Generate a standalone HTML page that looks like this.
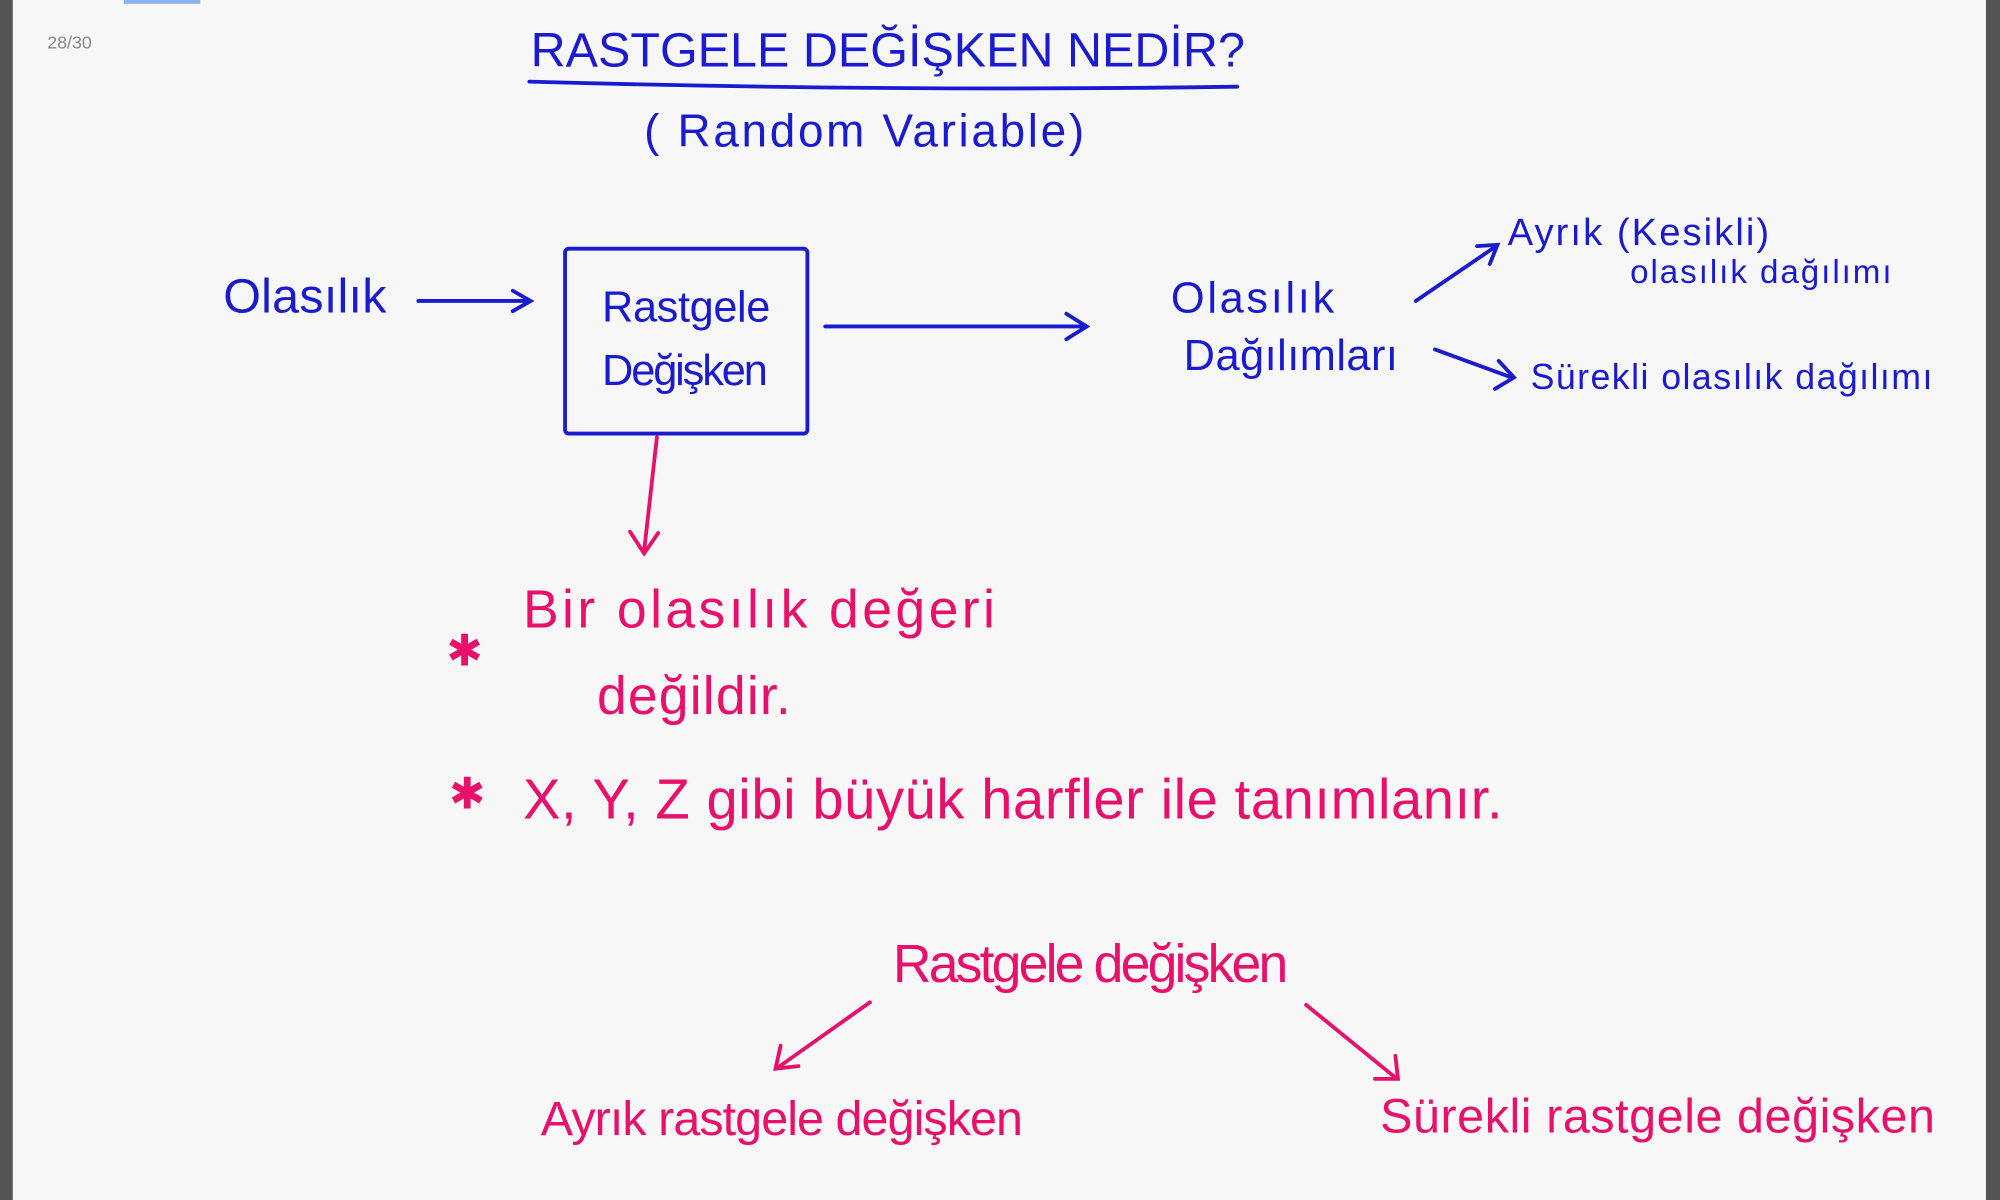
<!DOCTYPE html>
<html><head><meta charset="utf-8"><style>
html,body{margin:0;padding:0;width:2000px;height:1200px;overflow:hidden;background:#f7f7f7}
svg{display:block}
text{font-family:"Liberation Sans",sans-serif}
.b{fill:#1a1ad0}
.p{fill:#e8106a}
</style></head><body>
<svg width="2000" height="1200" viewBox="0 0 1568 941" preserveAspectRatio="none" xmlns="http://www.w3.org/2000/svg">
<rect width="1568" height="941" fill="#f7f7f7"/>
<rect x="0" y="0" width="10" height="941" fill="#555"/>
<rect x="1557" y="0" width="11" height="941" fill="#555"/>
<rect x="97" y="0" width="60" height="3" fill="#8ab4e8"/>
<text x="37" y="38" font-size="14" fill="#888">28/30</text>
<g stroke="#1a1ad0" stroke-width="3" fill="none" stroke-linecap="round">
<text x="416" y="52" font-size="38" class="b" stroke="none" textLength="560">RASTGELE DEĞİŞKEN NEDİR?</text>
<path d="M415 64 Q700 72 970 68"/>
<text x="505" y="115" font-size="36" class="b" stroke="none" textLength="345">( Random  Variable)</text>
<text x="175" y="245" font-size="38" class="b" stroke="none" textLength="128">Olasılık</text>
<path d="M328 236 L415 236 M402 228 L416 236 L402 244"/>
<rect x="443" y="195" width="190" height="145" rx="3"/>
<text x="472" y="252" font-size="34" class="b" stroke="none" textLength="132">Rastgele</text>
<text x="472" y="302" font-size="34" class="b" stroke="none" textLength="130">Değişken</text>
<path d="M647 256 L850 256 M836 246 L852 256 L836 266"/>
<text x="918" y="245" font-size="34" class="b" stroke="none" textLength="128">Olasılık</text>
<text x="928" y="290" font-size="34" class="b" stroke="none" textLength="168">Dağılımları</text>
<path d="M1110 236 L1173 193 M1158 193 L1174 192 L1168 207"/>
<text x="1182" y="192" font-size="30" class="b" stroke="none" textLength="205">Ayrık (Kesikli)</text>
<text x="1278" y="222" font-size="26" class="b" stroke="none" textLength="205">olasılık dağılımı</text>
<path d="M1125 274 L1185 296 M1175 283 L1187 296 L1172 305"/>
<text x="1200" y="305" font-size="28" class="b" stroke="none" textLength="315">Sürekli  olasılık  dağılımı</text>
</g>
<g stroke="#e8106a" stroke-width="3" fill="none" stroke-linecap="round">
<path d="M515 343 L505 432 M494 417 L505 434 L516 418"/>
<text x="350" y="522" font-size="34" class="p" stroke="none">✱</text>
<text x="410" y="492" font-size="42" class="p" stroke="none" textLength="370">Bir  olasılık  değeri</text>
<text x="468" y="560" font-size="42" class="p" stroke="none" textLength="152">değildir.</text>
<text x="352" y="634" font-size="34" class="p" stroke="none">✱</text>
<text x="410" y="642" font-size="44" class="p" stroke="none" textLength="768">X, Y, Z  gibi  büyük  harfler ile  tanımlanır.</text>
<text x="700" y="770" font-size="42" class="p" stroke="none" textLength="310">Rastgele  değişken</text>
<path d="M682 786 L610 837 M612 820 L608 838 L626 836"/>
<path d="M1024 788 L1094 845 M1094 828 L1096 846 L1078 846"/>
<text x="424" y="890" font-size="38" class="p" stroke="none" textLength="378">Ayrık  rastgele  değişken</text>
<text x="1082" y="888" font-size="38" class="p" stroke="none" textLength="435">Sürekli  rastgele  değişken</text>
</g>
</svg>
</body></html>
